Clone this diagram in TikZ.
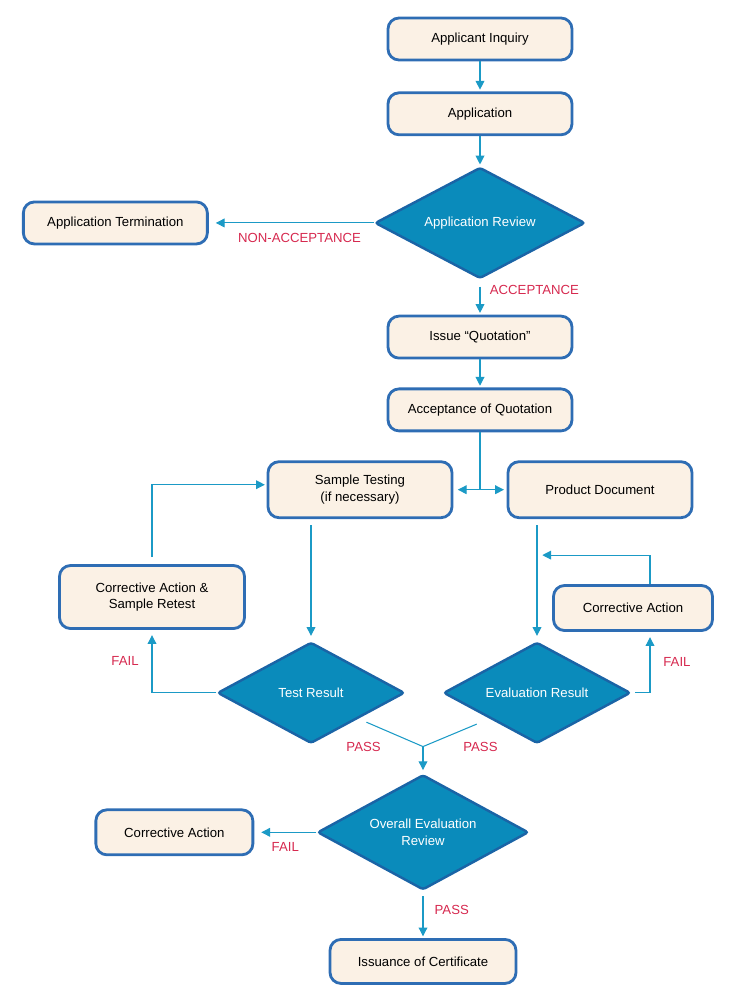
\documentclass[tikz,border=0pt]{standalone}
\usepackage{fontspec}
\setmainfont{Liberation Sans}
\usepackage{xcolor}
\usetikzlibrary{shapes.geometric,arrows.meta,positioning,calc}
\definecolor{boxfill}{HTML}{FBF1E5}
\definecolor{boxline}{HTML}{2E6DB4}
\definecolor{decfill}{HTML}{0A8BBB}
\definecolor{decline}{HTML}{1A64A6}
\definecolor{flow}{HTML}{1B9AC6}
\definecolor{tagred}{HTML}{D6294F}

\begin{document}
\begin{tikzpicture}[
    node distance=0.6cm,
    box/.style={rectangle, rounded corners=0.22cm, draw=boxline, line width=1.6pt, fill=boxfill, minimum width=3.68cm, minimum height=0.84cm, align=center, font=\fontsize{7.5}{9.5}\selectfont},
    decision/.style={diamond, aspect=2.2, rounded corners=1.5pt, draw=decline, line width=1.4pt, fill=decfill, text=white, inner sep=0pt, align=center, minimum width=3.74cm, minimum height=2.02cm, font=\fontsize{7.5}{9.5}\selectfont},
    arrow/.style={-{Triangle[length=5pt,width=5pt]}, draw=flow, line width=0.6pt, shorten >=1pt},
    line/.style={draw=flow, line width=0.6pt},
    tag/.style={text=tagred, font=\fontsize{7.5}{9}\selectfont}
]
    \useasboundingbox (0,0) rectangle (14.66,-20);

    \node[box] (inquiry) at (9.6,-0.78) {Applicant Inquiry};
    \node[box, below=of inquiry] (app) {Application};
    \node[decision, below=0.6cm of app, minimum width=4.2cm, minimum height=2.22cm] (review) {Application Review};
    \node[box, left=3.3cm of review] (term) {Application Termination};
    \node[box, below=0.7cm of review] (quote) {Issue \textquotedblleft Quotation\textquotedblright};
    \node[box, below=0.56cm of quote] (accept) {Acceptance of Quotation};

    \node[box, below=0.56cm of accept, xshift=-2.4cm, minimum height=1.12cm] (sample) {Sample Testing\\(if necessary)};
    \node[box, below=0.56cm of accept, xshift=2.4cm, minimum height=1.12cm] (doc) {Product Document};
    \node[box, below=0.9cm of sample, xshift=-4.16cm, minimum width=3.7cm, minimum height=1.26cm] (retest) {Corrective Action \&\\Sample Retest};
    \node[decision, below=2.44cm of sample, xshift=-0.98cm] (testres) {Test Result};
    \node[decision, below=2.44cm of doc, xshift=-1.26cm] (evalres) {Evaluation Result};
    \node[box, below=1.3cm of doc, xshift=0.66cm, minimum width=3.18cm, minimum height=0.9cm] (fixdoc) {Corrective Action};

    \node[decision, below=0.58cm of testres, xshift=2.24cm, minimum width=4.22cm, minimum height=2.3cm] (overall) {Overall Evaluation\\Review};
    \node[box, left=1.24cm of overall, minimum width=3.14cm, minimum height=0.9cm] (fixall) {Corrective Action};
    \node[box, below=0.94cm of overall, minimum width=3.72cm, minimum height=0.88cm] (cert) {Issuance of Certificate};

    \coordinate (split) at (accept.south |- sample.east);
    \coordinate (join) at ($(overall.north)+(0,0.54)$);
    \path ([xshift=0.34cm]fixdoc.north) ++(0,0.58) coordinate (turn);

    \draw[arrow] (inquiry) -- (app);
    \draw[arrow] (app) -- (review);
    \draw[arrow, shorten >=4pt] (review.west) -- (term.east) node[tag, below=2pt, pos=0.45] {NON-ACCEPTANCE};
    \draw[arrow, shorten <=4pt] (review.south) -- (quote.north) node[tag, right=2pt, pos=0.3] {ACCEPTANCE};
    \draw[arrow] (quote) -- (accept);
    \draw[line] (accept.south) -- (split);
    \draw[arrow, shorten >=2.5pt] (split) -- (sample.east);
    \draw[arrow, shorten >=1.5pt] (split) -- (doc.west);

    \draw[arrow, shorten <=3.5pt, shorten >=3pt] (testres.north |- sample.south) -- (testres.north);
    \draw[arrow, shorten <=3.5pt, shorten >=3pt] (evalres.north |- doc.south) -- (evalres.north);
    \draw[arrow, shorten >=3pt] (testres.west) -| (retest.south) node[tag, left=4pt, pos=0.75] {FAIL};
    \draw[arrow, shorten <=4pt] (retest.north) |- ([yshift=0.1cm]sample.west);
    \draw[arrow, shorten <=2pt, shorten >=3pt] (evalres.east) -| ([xshift=0.34cm]fixdoc.south) node[tag, right=4pt, pos=0.75] {FAIL};
    \draw[arrow, shorten >=3pt] ([xshift=0.34cm]fixdoc.north) -- (turn) -- (turn -| evalres.north);

    \draw[line, shorten <=5pt] (testres.south east) -- (join) node[tag, left=0.72cm] {PASS};
    \draw[line, shorten <=8pt] (evalres.south west) -- (join) node[tag, right=0.68cm] {PASS};
    \draw[arrow, shorten >=2pt] (join) -- (overall.north);
    \draw[arrow, shorten >=4pt] (overall.west) -- (fixall.east) node[tag, below=2pt, midway] {FAIL};
    \draw[arrow, shorten <=3pt] (overall.south) -- (cert.north) node[tag, right=3pt, pos=0.4] {PASS};
\end{tikzpicture}
\end{document}
